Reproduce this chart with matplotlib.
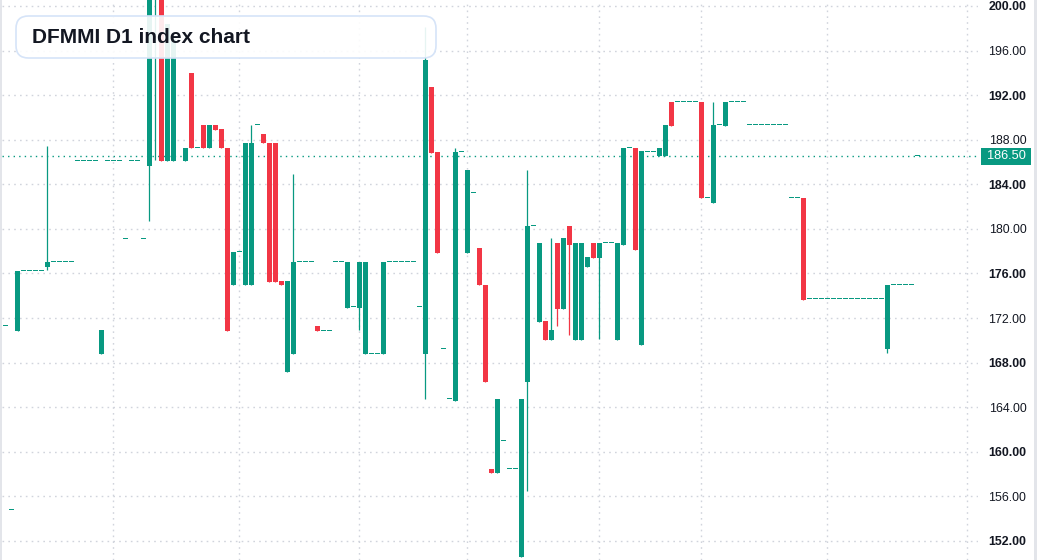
import numpy as np
import matplotlib
matplotlib.use("Agg")
import matplotlib.pyplot as plt
from matplotlib.patches import FancyBboxPatch, Rectangle

nan = np.nan
# ---- data (one entry per daily bar, NaN = no bar) ----
opens = [171.3, 154.8, 170.8, 176.2, 176.2, 176.2, 176.2, 176.6, 177.05, 177.05,
         177.05, 177.05, 186.1, 186.1, 186.1, 186.1, 168.8, 186.1, 186.1, 186.1,
         179.1, 186.1, 186.1, 179.1, 185.6, 203.5, 204.0, 186.05, 186.05, nan,
         186.06, 193.95, 187.3, 189.35, 187.25, 189.35, 189.0, 187.3, 174.95, 177.9,
         174.95, 174.95, 189.35, 188.55, 187.75, 187.75, 175.35, 167.15, 168.75, 177.05,
         177.05, 177.05, 171.3, 170.85, 170.85, 177.05, 177.05, 172.9, 172.95, 172.9,
         168.75, 168.8, 168.8, 168.75, 177.05, 177.05, 177.05, 177.05, 177.05, 172.95,
         168.75, 192.7, 186.9, 169.25, 164.7, 164.6, 186.9, 177.8, 183.25, 178.25,
         175.0, 158.5, 158.1, 160.95, 158.5, 158.5, 150.6, 166.25, 180.3, 171.65,
         171.7, 170.0, 178.7, 172.85, 180.3, 170.0, 170.0, 176.55, 178.7, 177.35,
         178.7, 178.7, 170.0, 178.6, 187.3, 187.3, 169.55, 186.9, 186.9, 186.5,
         186.5, 191.4, 191.4, 191.4, 191.4, 191.4, 191.4, 182.8, 182.3, 189.35,
         189.25, 191.4, 191.4, 191.4, 189.35, 189.35, 189.35, 189.35, 189.35, 189.35,
         189.35, 182.8, 182.8, 182.8, 173.7, 173.7, 173.7, 173.7, 173.7, 173.7,
         173.7, 173.7, 173.7, 173.7, 173.7, 173.7, 173.7, 169.2, 175.0, 175.0,
         175.0, 175.0, 186.5]
closes = [171.3, 154.8, 176.2, 176.2, 176.2, 176.2, 176.2, 177.05, 177.05, 177.05,
          177.05, 177.05, 186.1, 186.1, 186.1, 186.1, 170.9, 186.1, 186.1, 186.1,
          179.1, 186.1, 186.1, 179.1, 203.0, 204.5, 186.05, 198.4, 197.0, nan,
          187.3, 187.25, 187.3, 187.25, 189.35, 188.9, 187.25, 170.8, 177.9, 177.9,
          187.75, 187.75, 189.35, 187.7, 175.25, 175.25, 174.95, 175.35, 177.05, 177.05,
          177.05, 177.05, 170.8, 170.85, 170.85, 177.05, 177.05, 177.05, 172.95, 177.05,
          177.05, 168.8, 168.8, 177.05, 177.05, 177.05, 177.05, 177.05, 177.05, 172.95,
          195.2, 186.85, 177.8, 169.25, 164.7, 186.9, 186.9, 185.25, 183.25, 174.95,
          166.25, 158.1, 164.7, 160.95, 158.5, 158.5, 164.7, 180.3, 180.3, 178.7,
          170.0, 170.9, 172.85, 179.15, 178.6, 178.7, 178.7, 177.45, 177.35, 178.7,
          178.7, 178.7, 178.7, 187.3, 187.3, 178.15, 186.95, 186.9, 186.9, 187.3,
          189.35, 189.25, 191.4, 191.4, 191.4, 191.4, 182.75, 182.8, 189.35, 189.35,
          191.4, 191.4, 191.4, 191.4, 189.35, 189.35, 189.35, 189.35, 189.35, 189.35,
          189.35, 182.8, 182.8, 173.65, 173.7, 173.7, 173.7, 173.7, 173.7, 173.7,
          173.7, 173.7, 173.7, 173.7, 173.7, 173.7, 173.7, 175.0, 175.0, 175.0,
          175.0, 175.0, 186.5]
# highs / lows that differ from the body extremes (index -> value)
high_extra = {7: 187.4, 24: 204.0, 25: 205.0, 41: 189.35, 48: 184.9, 70: 198.1,
              75: 187.3, 87: 185.25, 91: 179.15, 118: 191.4}
low_extra = {7: 176.3, 24: 180.75, 25: 186.2, 59: 170.9, 70: 164.75, 87: 156.45,
             92: 171.25, 94: 170.45, 99: 170.1, 147: 168.85}
month_starts = [18, 39, 59, 77, 99, 116, 137, 160.25]
price_ticks = [152, 156, 160, 164, 168, 172, 176, 180, 184, 188, 192, 196, 200]
last_price = 186.50
title = "DFMMI D1 index chart"

GREEN = "#089981"
RED = "#F23645"
TXT = "#131722"
GRID = "#d1d4dc"

o = np.array(opens, float)
c = np.array(closes, float)
idx = np.arange(len(o))
hi = np.fmax(o, c)
lo = np.fmin(o, c)
for k, v in high_extra.items():
    hi[k] = v
for k, v in low_extra.items():
    lo[k] = v
valid = ~np.isnan(o)
up = c >= o
colors = np.where(up, GREEN, RED)

W, H = 1037, 560
fig = plt.figure(figsize=(W / 100, H / 100), dpi=100)
fig.patch.set_facecolor("white")
ax = fig.add_axes([2 / W, 0, 976 / W, 1])
ax.set_facecolor("white")
for s in ax.spines.values():
    s.set_visible(False)

px_per_unit = 535 / 48.0
ax.set_ylim(152 - 19 / px_per_unit, 200 + 6 / px_per_unit)
ax.set_xlim((2 - 5.5) / 6, (978 - 5.5) / 6)

# grid
ax.set_yticks(price_ticks)
ax.set_xticks(month_starts)
ax.grid(True, axis="both", color=GRID, linestyle=(0, (1.2, 3)), linewidth=1)
ax.set_axisbelow(True)

# candles
min_h = 1.0 / px_per_unit
ax.vlines(idx[valid], lo[valid], hi[valid], colors=colors[valid], linewidth=0.9, zorder=2)
body_bottom = np.fmin(o, c)
body_h = np.maximum(np.abs(c - o), min_h)
ax.bar(idx[valid], body_h[valid], bottom=body_bottom[valid], width=0.8,
       color=colors[valid], linewidth=0, zorder=3)

# last price line
ax.axhline(last_price, color=GREEN, linestyle=(0, (1, 3)), linewidth=1, zorder=1)

# y tick labels on right
ax.tick_params(axis="x", length=0, labelbottom=False)
ax.tick_params(axis="y", left=False, right=False, labelleft=False, labelright=True,
               length=0, pad=34.8, labelsize=8.9, labelcolor=TXT)
ax.set_yticklabels([f"{t:.2f}" for t in price_ticks])
for lab, t in zip(ax.get_yticklabels(), price_ticks):
    lab.set_horizontalalignment("right")
    lab.set_fontfamily("Liberation Sans")
    lab.set_fontweight("bold" if t % 8 == 0 else "normal")

# last price tag
ytr = ax.get_yaxis_transform()
ax.add_patch(Rectangle(((981 - 2) / 976, last_price - 8.5 / px_per_unit), 50 / 976,
                       17 / px_per_unit, transform=ytr, facecolor=GREEN,
                       edgecolor="none", clip_on=False, zorder=5))
ax.text((1006 - 2) / 976, last_price, f"{last_price:.2f}", transform=ytr,
        ha="center", va="center", color="white", fontsize=9.2,
        family="Liberation Sans", zorder=6, clip_on=False)

# side borders
fig.patches.append(Rectangle((0, 0), 2 / W, 1, transform=fig.transFigure,
                             facecolor="#e3e5ea", edgecolor="none", zorder=10))
fig.patches.append(Rectangle((1034 / W, 0), 3 / W, 1, transform=fig.transFigure,
                             facecolor="#e3e5ea", edgecolor="none", zorder=10))

# title box
box = FancyBboxPatch((16 / W, 1 - 58 / H), 420 / W, 42 / H,
                     boxstyle="round,pad=0,rounding_size=0.012",
                     transform=fig.transFigure, facecolor=(1, 1, 1, 0.9),
                     edgecolor="#d6e4f8", linewidth=1.2, zorder=10,
                     mutation_aspect=W / H)
fig.patches.append(box)
fig.text(32 / W, 1 - 37.5 / H, title, ha="left", va="center", fontsize=15,
         fontweight="bold", color=TXT, family="Liberation Sans", zorder=11)

fig.savefig("out.png", dpi=100)
